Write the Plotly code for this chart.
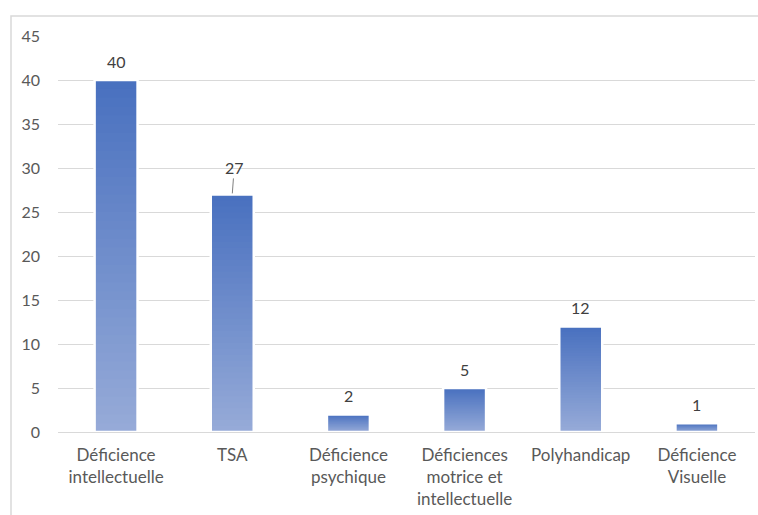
import plotly.graph_objects as go

categories = ["Déficience<br>intellectuelle", "TSA", "Déficience<br>psychique",
              "Déficiences<br>motrice et<br>intellectuelle", "Polyhandicap", "Déficience<br>Visuelle"]
values = [40, 27, 2, 5, 12, 1]
y_ticks = [0, 5, 10, 15, 20, 25, 30, 35, 40, 45]

W, H = 758, 515
ML, MR, MT, MB = 58, 3, 36, 83
FONT = "Lato"
TXT = "#595959"

top_rgb = (0x48, 0x70, 0xBF)
bot_rgb = (0x97, 0xAB, 0xD8)
N = 40

fig = go.Figure()
for i in range(N):
    t = (i + 0.5) / N  # 0 bottom -> 1 top
    c = tuple(round(bot_rgb[k] + (top_rgb[k] - bot_rgb[k]) * t) for k in range(3))
    fig.add_trace(go.Bar(
        x=categories, y=[v - v * i / N for v in values], base=[v * i / N for v in values],
        marker=dict(color="rgb(%d,%d,%d)" % c, line=dict(width=0)),
        width=0.37, showlegend=False, hoverinfo="skip"))
# white outline
fig.add_trace(go.Bar(
    x=categories, y=values, width=0.37,
    marker=dict(color="rgba(0,0,0,0)", line=dict(color="white", width=2.5)),
    showlegend=False))

# data labels
for c, v in zip(categories, values):
    if v == 27:
        fig.add_annotation(x=c, y=v, text=str(v), showarrow=True, arrowhead=0,
                           arrowwidth=1, arrowcolor="#7f7f7f", ax=2, ay=-27,
                           standoff=1, font=dict(family=FONT, size=16, color="#404040"))
    else:
        fig.add_annotation(x=c, y=v, text=str(v), showarrow=False, yshift=19,
                           font=dict(family=FONT, size=16, color="#404040"))

# outer border
pw = W - ML - MR
ph = H - MT - MB
fig.add_shape(type="rect", xref="paper", yref="paper",
              x0=(11 - ML) / pw, x1=(W + 5 - ML) / pw,
              y0=(H - MB - (H + 5)) / ph, y1=(H - MB - 16) / ph,
              line=dict(color="#d9d9d9", width=1.5), layer="below")

fig.update_layout(
    width=W, height=H, margin=dict(l=ML, r=MR, t=MT, b=MB),
    barmode="overlay", bargap=0.63,
    plot_bgcolor="white", paper_bgcolor="white",
    font=dict(family=FONT, size=16, color=TXT),
    xaxis=dict(showgrid=False, showline=False, tickfont=dict(size=17, color=TXT),
               ticklabelstandoff=11),
    yaxis=dict(range=[0, 45], tickvals=y_ticks, showgrid=True, gridcolor="#d9d9d9",
               gridwidth=1, zeroline=True, zerolinecolor="#d9d9d9", zerolinewidth=1,
               showline=False, tickfont=dict(size=16, color=TXT), ticklabelstandoff=17),
)

fig.write_html("out.html")
